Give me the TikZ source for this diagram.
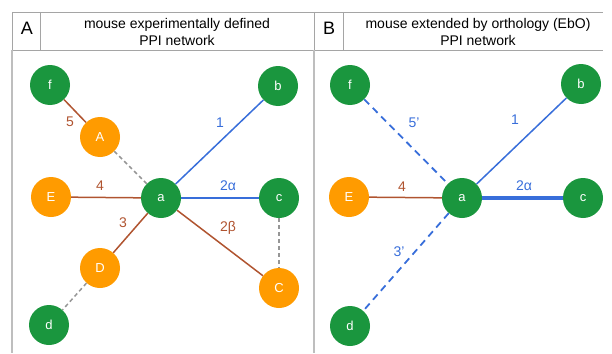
\documentclass[tikz,border=0pt]{standalone}
\usepackage{fontspec}
\setmainfont{Liberation Sans}
\definecolor{ngreen}{RGB}{26,150,62}
\definecolor{norange}{RGB}{255,155,0}
\definecolor{ebrown}{RGB}{176,84,48}
\definecolor{eblue}{RGB}{56,110,218}
\definecolor{egray}{RGB}{150,150,150}
\definecolor{frame}{RGB}{165,165,165}
\definecolor{framel}{RGB}{190,190,190}
\begin{document}
\begin{tikzpicture}[x=1pt,y=-1pt,
  gnode/.style={circle,fill=ngreen,minimum size=40pt,inner sep=0pt,text=white,font=\fontsize{13}{13}\selectfont},
  onode/.style={circle,fill=norange,minimum size=40pt,inner sep=0pt,text=white,font=\fontsize{13}{13}\selectfont},
  brownedge/.style={draw=ebrown,line width=1.5pt},
  blueedge/.style={draw=eblue,line width=1.5pt},
  thickblue/.style={draw=eblue,line width=3.5pt},
  bluedash/.style={draw=eblue,line width=1.8pt,dash pattern=on 7pt off 5pt},
  graydash/.style={draw=egray,line width=1.5pt,dash pattern=on 4pt off 3pt},
  lab/.style={font=\fontsize{14}{14}\selectfont,inner sep=0pt},
  hdr/.style={font=\fontsize{14}{17}\selectfont,align=center,inner sep=0pt},
  hletter/.style={font=\fontsize{18}{18}\selectfont,inner sep=0pt},
  frameline/.style={draw=frame,line width=0.9pt},
  bodyline/.style={draw=framel,line width=1.8pt}
]
\useasboundingbox (0,0) rectangle (612,353);
% frame
\draw[frameline] (12,12) -- (603,12);
\draw[frameline] (12,50) -- (603,50);
\draw[frameline] (40,12) -- (40,50);
\draw[frameline] (343,12) -- (343,50);
\draw[frameline] (12,12) -- (12,50);
\draw[frameline] (314,12) -- (314,50);
\draw[bodyline] (12,50) -- (12,353);
\draw[bodyline] (314,50) -- (314,353);
% headers
\node[hletter] (hA) at (27,28) {A};
\node[hdr] (tA) at (177,32) {mouse experimentally defined\\PPI network};
\node[hletter] (hB) at (329,28) {B};
\node[hdr] (tB) at (478,32) {mouse extended by orthology (EbO)\\PPI network};
% panel A nodes
\node[gnode] (fA) at (50,85) {f};
\node[gnode] (bA) at (278,86) {b};
\node[onode] (AA) at (100,137) {A};
\node[onode] (EA) at (51,197) {E};
\node[gnode] (aA) at (161,198) {a};
\node[gnode] (cA) at (279,198) {c};
\node[onode] (DA) at (100,268) {D};
\node[onode] (CA) at (279,288) {C};
\node[gnode] (dA) at (49,325) {d};
% panel A edges
\draw[brownedge] (fA) -- (AA);
\draw[graydash] (AA) -- (aA);
\draw[brownedge] (EA) -- (aA);
\draw[blueedge] (aA) -- (bA);
\draw[blueedge] (aA) -- (cA);
\draw[brownedge] (aA) -- (DA);
\draw[graydash] (DA) -- (dA);
\draw[brownedge] (aA) -- (CA);
\draw[graydash] (cA) -- (CA);
% panel A labels
\node[lab,text=ebrown] (l5) at (70,122) {5};
\node[lab,text=eblue] (l1A) at (220,123) {1};
\node[lab,text=ebrown] (l4A) at (100,186) {4};
\node[lab,text=eblue] (l2aA) at (228,186) {2α};
\node[lab,text=ebrown] (l3) at (123,223) {3};
\node[lab,text=ebrown] (l2b) at (228,228) {2β};
% panel B nodes
\node[gnode] (fB) at (350,85) {f};
\node[gnode] (bB) at (581,84) {b};
\node[onode] (EB) at (349,197) {E};
\node[gnode] (aB) at (462,198) {a};
\node[gnode] (cB) at (583,198) {c};
\node[gnode] (dB) at (350,326) {d};
% panel B edges
\draw[bluedash] (fB) -- (aB);
\draw[blueedge] (aB) -- (bB);
\draw[brownedge] (EB) -- (aB);
\draw[thickblue] (aB) -- (cB);
\draw[bluedash] (aB) -- (dB);
% panel B labels
\node[lab,text=eblue] (l5p) at (414,123) {5'};
\node[lab,text=eblue] (l1B) at (515,120) {1};
\node[lab,text=ebrown] (l4B) at (402,187) {4};
\node[lab,text=eblue] (l2aB) at (524,186) {2α};
\node[lab,text=eblue] (l3p) at (399,252) {3'};
\end{tikzpicture}
\end{document}
